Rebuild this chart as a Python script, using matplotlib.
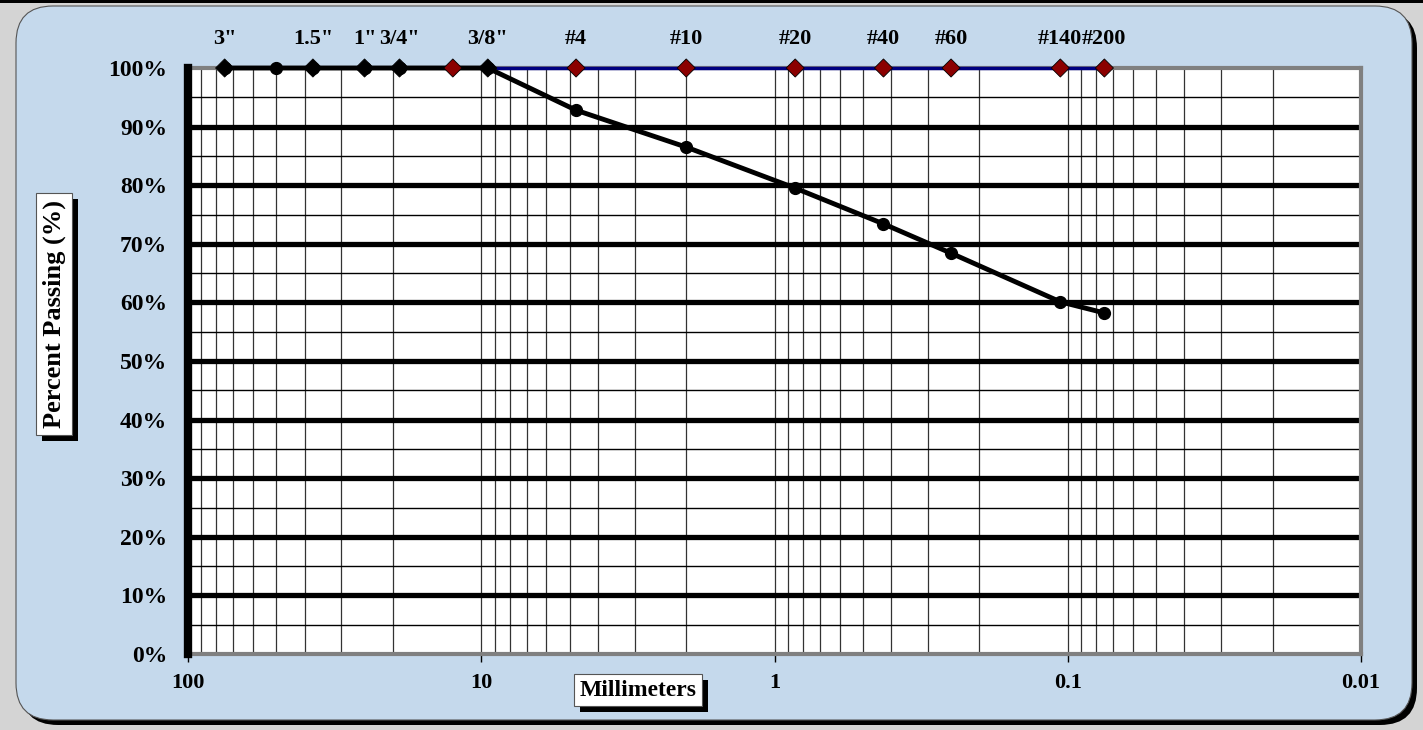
import matplotlib
matplotlib.use("Agg")
import matplotlib.pyplot as plt
import numpy as np
from matplotlib.patches import FancyBboxPatch, Rectangle
from matplotlib.ticker import FixedLocator, NullFormatter

plt.rcParams['font.family'] = ['Liberation Serif', 'DejaVu Serif']
plt.rcParams['font.weight'] = 'bold'

# --- data ---
sieve_labels = ['3"', '1.5"', '1"', '3/4"', '3/8"', '#4', '#10', '#20', '#40', '#60', '#140', '#200']
sieve_mm = [75, 37.5, 25, 19, 9.5, 4.75, 2.0, 0.85, 0.425, 0.25, 0.106, 0.075]

# sieve marker series (top row)
marker_mm = [75, 37.5, 25, 19, 12.5, 9.5, 4.75, 2.0, 0.85, 0.425, 0.25, 0.106, 0.075]
marker_colors = ['black', 'black', 'black', 'black', '#8B0000', 'black',
                 '#8B0000', '#8B0000', '#8B0000', '#8B0000', '#8B0000', '#8B0000', '#8B0000']

# gradation result
grain_mm = [75, 50, 37.5, 25, 19, 9.5, 4.75, 2.0, 0.85, 0.425, 0.25, 0.106, 0.075]
passing = [100, 100, 100, 100, 100, 100, 92.8, 86.5, 79.5, 73.4, 68.4, 60.1, 58.2]

x_ticks = [100, 10, 1, 0.1, 0.01]
x_ticklabels = ['100', '10', '1', '0.1', '0.01']
y_ticks = list(range(0, 101, 10))

W, H = 1423, 730
fig = plt.figure(figsize=(W / 100, H / 100), dpi=100)
fig.patch.set_facecolor('#D4D4D4')


def px(x, y):
    return x / W, 1 - y / H


# rounded panel with shadow
x0, y0 = px(16, 720)
x1, y1 = px(1412, 6)
shadow = FancyBboxPatch((x0 + 5 / W, y0 - 5 / H), x1 - x0, y1 - y0,
                        boxstyle="round,pad=0,rounding_size=0.026",
                        transform=fig.transFigure, facecolor='black', edgecolor='none',
                        mutation_aspect=W / H, zorder=-3)
panel = FancyBboxPatch((x0, y0), x1 - x0, y1 - y0,
                       boxstyle="round,pad=0,rounding_size=0.026",
                       transform=fig.transFigure, facecolor='#C5D9EC', edgecolor='#555555',
                       linewidth=0.8, mutation_aspect=W / H, zorder=-2)
strip = Rectangle((0, 1 - 3 / H), 1, 3 / H, transform=fig.transFigure,
                  facecolor='black', edgecolor='none', zorder=-1)
fig.patches.extend([shadow, panel, strip])

l, b = px(188, 654)
r, t = px(1361, 68)
ax = fig.add_axes([l, b, r - l, t - b])
ax.set_zorder(2)
ax.set_facecolor('white')
ax.set_xscale('log')
ax.set_xlim(100, 0.01)
ax.set_ylim(0, 100)

# grid
minor_x = [m * 10.0 ** e for e in range(-2, 2) for m in range(2, 10)]
for v in minor_x + [10, 1, 0.1]:
    ax.axvline(v, color='#333333', lw=0.9, zorder=1)
for v in range(5, 100, 10):
    ax.axhline(v, color='black', lw=1.0, zorder=1)
for v in range(10, 100, 10):
    ax.axhline(v, color='black', lw=3.8, zorder=1)

ax.plot([9.5, 0.075], [100, 100], color='#000080', lw=2.5, zorder=3, clip_on=False)
ax.plot(grain_mm, passing, color='black', lw=3.5, marker='o', markersize=8.5, zorder=4,
        clip_on=False)
ax.scatter(marker_mm, [100] * len(marker_mm), marker='D', s=85, c=marker_colors,
           edgecolors='black', linewidths=0.6, zorder=5, clip_on=False)

for s in ['top', 'right', 'bottom']:
    ax.spines[s].set_color('#808080')
    ax.spines[s].set_linewidth(3)
ax.spines['left'].set_color('black')
ax.spines['left'].set_linewidth(6)
ax.spines['left'].set_zorder(6)

ax.xaxis.set_major_locator(FixedLocator(x_ticks))
ax.set_xticklabels(x_ticklabels)
ax.xaxis.set_minor_formatter(NullFormatter())
ax.tick_params(axis='x', which='minor', length=0)
ax.tick_params(axis='x', which='major', length=6, width=1, pad=8, labelsize=16)
ax.set_yticks(y_ticks)
ax.set_yticklabels([f'{v}%' for v in y_ticks])
ax.tick_params(axis='y', length=0, pad=15, labelsize=17)

# top sieve labels
top = ax.twiny()
top.set_zorder(3)
top.set_xscale('log')
top.set_xlim(ax.get_xlim())
top.set_xticks(sieve_mm)
top.set_xticklabels(sieve_labels)
top.xaxis.set_minor_locator(FixedLocator([]))
top.tick_params(axis='x', length=0, pad=14, labelsize=16)
for s in top.spines.values():
    s.set_visible(False)

# axis titles in shadowed boxes
box = dict(boxstyle='square,pad=0.25', facecolor='white', edgecolor='#555555', linewidth=0.8)
ylab = fig.text(54 / W, 1 - 314 / H, 'Percent Passing (%)', rotation=90, ha='center',
                va='center', fontsize=19, bbox=box, zorder=6)
xlab = fig.text(638 / W, 1 - 690 / H, 'Millimeters', ha='center', va='center', fontsize=17,
                bbox=box, zorder=6)

fig.canvas.draw()
for txt in (ylab, xlab):
    bb = txt.get_bbox_patch().get_window_extent()
    fig.patches.append(Rectangle(((bb.x0 + 6) / W, (bb.y0 - 6) / H), bb.width / W, bb.height / H,
                                 transform=fig.transFigure, facecolor='black',
                                 edgecolor='none', zorder=5))

fig.savefig('out.png', dpi=100, facecolor=fig.get_facecolor())
